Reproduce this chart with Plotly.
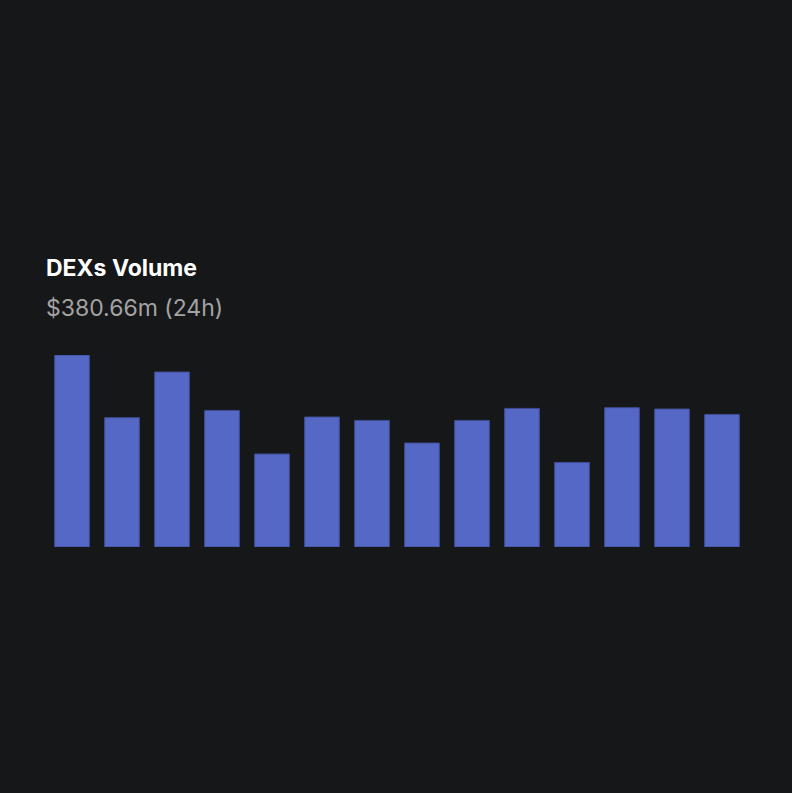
import plotly.graph_objects as go

hours = [f"H{i+1}" for i in range(14)]
volume_m = [19.2, 12.93, 17.5, 13.66, 9.3, 13.0, 12.66, 10.4, 12.66, 13.86, 8.46, 13.93, 13.8, 13.26]
title_text = "DEXs Volume"
subtitle_text = "$380.66m (24h)"

BG = "#161719"
L, R, T, B = 47, 45, 355, 246
W, H = 792, 793
plot_h = H - T - B
plot_w = W - L - R

def py(px):
    return (H - B - px) / plot_h

def pxx(px):
    return (px - L) / plot_w

fig = go.Figure(go.Bar(
    x=hours, y=volume_m,
    marker=dict(color="#5568c6", line=dict(color="#3f4c92", width=1)),
    hoverinfo="skip",
))

fig.update_layout(
    width=W, height=H,
    margin=dict(l=L, r=R, t=T, b=B, pad=0),
    paper_bgcolor=BG, plot_bgcolor=BG,
    bargap=0.306,
    showlegend=False,
    xaxis=dict(visible=False, range=[-0.5, 13.5]),
    yaxis=dict(visible=False, range=[0, max(volume_m)]),
    font=dict(family="Inter, sans-serif"),
    annotations=[
        dict(text=f"<b>{title_text}</b>", x=pxx(44), y=py(268), xref="paper", yref="paper",
             xanchor="left", yanchor="middle", showarrow=False,
             font=dict(size=23, color="#ffffff", family="Inter, sans-serif")),
        dict(text=subtitle_text, x=pxx(44), y=py(308), xref="paper", yref="paper",
             xanchor="left", yanchor="middle", showarrow=False,
             font=dict(size=23, color="#a3a3a3", family="Inter, sans-serif")),
    ],
)

fig.write_html(
    "out.html",
    config={"displayModeBar": False},
    post_script="document.body.style.margin='0';document.body.style.background='#161719';",
)
